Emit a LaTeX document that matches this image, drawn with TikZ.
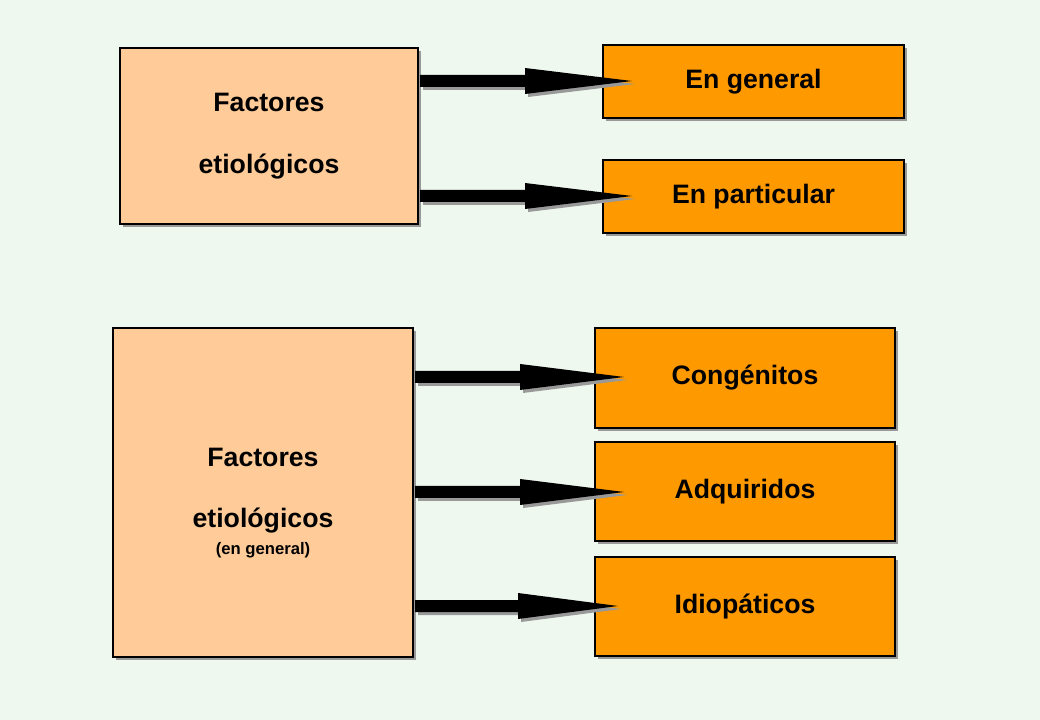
\documentclass[tikz,border=0pt]{standalone}
\usepackage{fontspec}
\setmainfont{Liberation Sans}
\definecolor{bg}{HTML}{EEF8EF}
\definecolor{lightor}{HTML}{FFCC99}
\definecolor{darkor}{HTML}{FF9900}
\definecolor{shad}{HTML}{999999}
\tikzset{
  leftbox/.style={draw=black,line width=2pt,fill=lightor,font=\bfseries\fontsize{20}{24}\selectfont,align=center,inner sep=0pt},
  rightbox/.style={draw=black,line width=2pt,fill=darkor,font=\bfseries\fontsize{20}{24}\selectfont,inner sep=0pt},
}
\newcommand{\mybox}[6]{% name, style, x1,y1,x2,y2
  \fill[shad] ({#3+3},{#4+3}) rectangle ({#5+3},{#6+3});
  \node[#2,minimum width={(#5-#3)*0.75pt},minimum height={(#6-#4)*0.75pt}] (#1) at ({(#3+#5)/2},{(#4+#6)/2}) {};
}
\newcommand{\myarrow}[4]{% x0, y, xh, xt
  \fill[shad] ({#1+3},{#2+3-6}) -- ({#3+3},{#2+3-6}) -- ({#3+3},{#2+3-13}) -- ({#4+3},{#2+3}) -- ({#3+3},{#2+3+13}) -- ({#3+3},{#2+3+6}) -- ({#1+3},{#2+3+6}) -- cycle;
  \fill[black] (#1,{#2-6}) -- (#3,{#2-6}) -- (#3,{#2-13}) -- (#4,#2) -- (#3,{#2+13}) -- (#3,{#2+6}) -- (#1,{#2+6}) -- cycle;
}
\begin{document}
\begin{tikzpicture}[x=0.75pt,y=-0.75pt]
\fill[bg] (0,0) rectangle (1040,720);
\useasboundingbox (0,0) rectangle (1040,720);
\mybox{f1}{leftbox}{120}{48}{418}{224}
\node[font=\bfseries\fontsize{20}{24}\selectfont,align=center] at (f1) {Factores\\[22pt]etiológicos};
\mybox{g1}{rightbox}{603}{45}{904}{118}
\node[font=\bfseries\fontsize{20}{24}\selectfont] at (g1) {En general};
\mybox{g2}{rightbox}{603}{160}{904}{233}
\node[font=\bfseries\fontsize{20}{24}\selectfont] at (g2) {En particular};
\mybox{f2}{leftbox}{113}{328}{413}{657}
\node[font=\bfseries\fontsize{20}{24}\selectfont,align=center] at ([yshift=-8pt]f2) {Factores\\[22pt]etiológicos\\[-4pt]{\fontsize{12.5}{15}\selectfont (en general)}};
\mybox{c1}{rightbox}{595}{328}{895}{428}
\node[font=\bfseries\fontsize{20}{24}\selectfont] at (c1) {Congénitos};
\mybox{c2}{rightbox}{595}{442}{895}{541}
\node[font=\bfseries\fontsize{20}{24}\selectfont] at (c2) {Adquiridos};
\mybox{c3}{rightbox}{595}{557}{895}{656}
\node[font=\bfseries\fontsize{20}{24}\selectfont] at (c3) {Idiopáticos};
\myarrow{420}{81}{525}{632}
\myarrow{420}{196}{525}{632}
\myarrow{415}{377}{520}{624}
\myarrow{415}{492}{520}{624}
\myarrow{415}{606}{518}{618}
\end{tikzpicture}
\end{document}
